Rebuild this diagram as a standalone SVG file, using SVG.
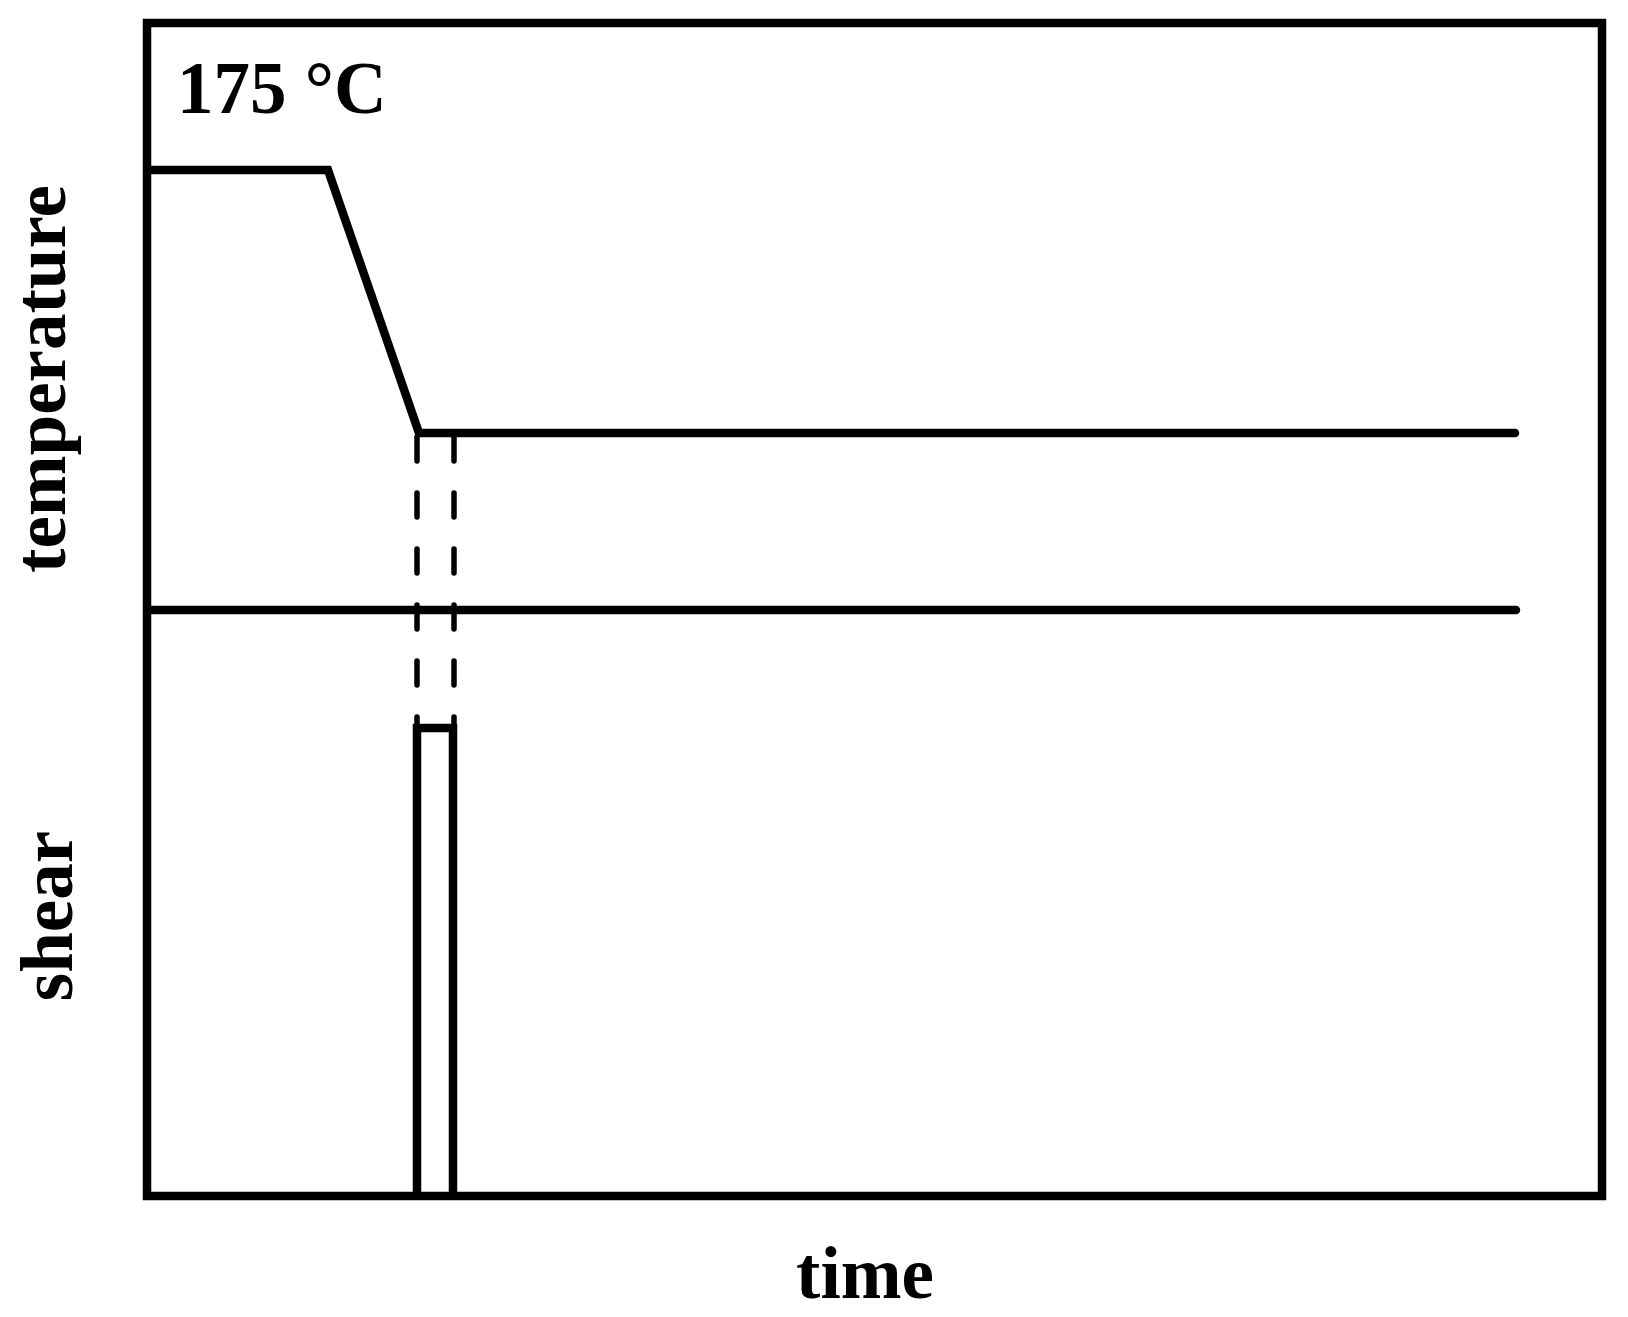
<svg xmlns="http://www.w3.org/2000/svg" width="1628" height="1317" viewBox="0 0 1628 1317">
<style>
.thick{fill:none;stroke:#000;stroke-width:8.5;stroke-linejoin:miter}
.round{fill:none;stroke:#000;stroke-width:8.5;stroke-linecap:round;stroke-linejoin:miter}
.dash{fill:none;stroke:#000;stroke-width:5.5;stroke-linecap:round;stroke-dasharray:24 32}
.lbl{font-family:"Liberation Serif","Times New Roman",serif;font-weight:bold;font-size:73px;fill:#000}
</style>
<rect width="1628" height="1317" fill="#fff"/>
<g id="frame">
<rect class="thick" x="147" y="23" width="1455" height="1173"/>
</g>
<g id="connectors">
<polyline id="temperature-profile" class="round" points="151,170 328,170 419,433 1515,433"/>
<line id="shear-baseline" class="round" x1="151" y1="610" x2="1516" y2="610"/>
<line class="dash" x1="417" y1="437" x2="417" y2="730"/>
<line class="dash" x1="454" y1="437" x2="454" y2="730"/>
<polyline id="shear-pulse" class="thick" points="417,1196 417,728 453,728 453,1196"/>
</g>
<g id="label-175">
<text class="lbl" x="177" y="113">175 °C</text>
</g>
<g id="label-temperature">
<text class="lbl" text-anchor="middle" transform="translate(65,379) rotate(-90)">temperature</text>
</g>
<g id="label-shear">
<text class="lbl" text-anchor="middle" transform="translate(72,916) rotate(-90)">shear</text>
</g>
<g id="label-time">
<text class="lbl" text-anchor="middle" x="865" y="1298">time</text>
</g>
</svg>
